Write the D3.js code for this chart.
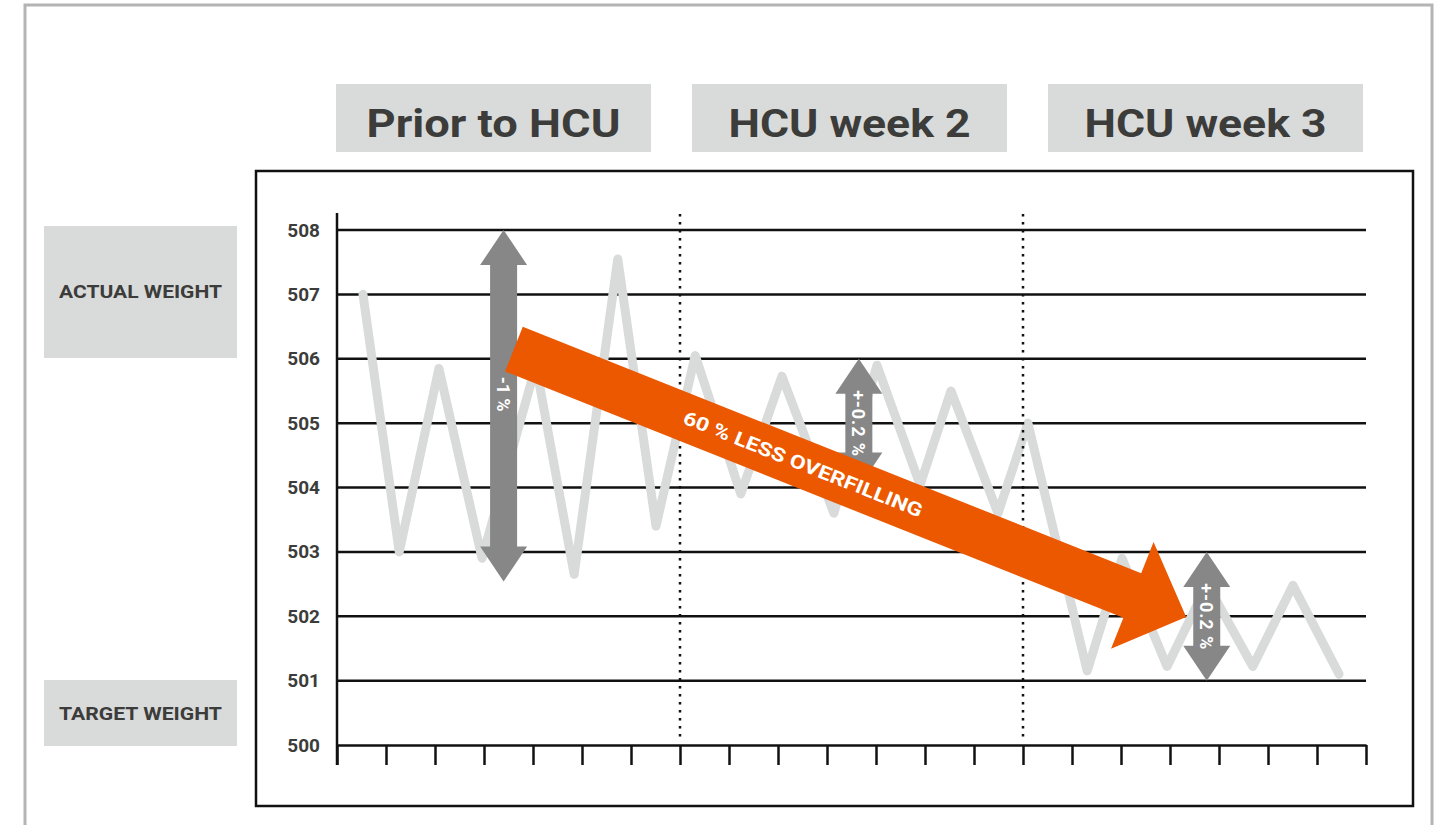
<!DOCTYPE html>
<html>
<head>
<meta charset="utf-8">
<script src="https://cdn.jsdelivr.net/npm/d3@7"></script>
<style>
  body { margin: 0; background: #fff; }
  text { font-family: Roboto, "Noto Sans", sans-serif; font-weight: 700; }
</style>
</head>
<body>
<div id="chart"></div>
<script>
// data
const periods = ['Prior to HCU', 'HCU week 2', 'HCU week 3'];
const yTicks = [500, 501, 502, 503, 504, 505, 506, 507, 508];
const sampleX = [0.53, 1.27, 2.08, 2.96, 4.06, 4.84, 5.73, 6.51, 7.31, 8.24, 9.08, 10.14,
                 11.02, 11.9, 12.53, 13.49, 14.1, 15.31, 16.02, 16.94, 17.76, 18.69, 19.51, 20.45];
const weights = [507.0, 503.0, 505.85, 502.9, 505.9, 502.65, 507.55, 503.4, 506.05, 503.9, 505.73, 503.6,
                 505.9, 504.04, 505.5, 503.6, 505.0, 501.15, 502.9, 501.22, 502.5, 501.22, 502.48, 501.1];
const spreadX = [3.4, 10.65, 17.75];
const spreadTop = [508, 506, 503];
const spreadBottom = [502.54, 504, 501];
const spreadLabelAt = [505.45, 505.0, 502.0];
const spreadLabels = ['-1 %', '+-0.2 %', '+-0.2 %'];
const trendFrom = [3.61, 506.15];
const trendTo = [17.33, 501.99];
const trendLabel = '60 % LESS OVERFILLING';
const sideLabels = ['ACTUAL WEIGHT', 'TARGET WEIGHT'];

const width = 1439, height = 825;
const textColor = '#3c3c3b', boxFill = '#d9dbda';

const svg = d3.select('#chart').append('svg')
    .attr('width', width)
    .attr('height', height);

const x = d3.scaleLinear().domain([0, 21]).range([337, 1366]);
const y = d3.scaleLinear().domain([500, 508]).range([745, 230]);

// frames
svg.append('rect')
    .attr('x', 25).attr('y', 5).attr('width', 1407).attr('height', 860)
    .attr('fill', 'none').attr('stroke', '#b4b4b4').attr('stroke-width', 3);
svg.append('rect')
    .attr('x', 256).attr('y', 171).attr('width', 1157).attr('height', 635)
    .attr('fill', 'none').attr('stroke', '#111').attr('stroke-width', 2.5);

// period headers
const head = svg.append('g').selectAll('g')
    .data(periods)
    .join('g')
    .attr('transform', (d, i) => `translate(${336 + i * 356},84)`);
head.append('rect')
    .attr('width', 315).attr('height', 68)
    .attr('fill', boxFill);
head.append('text')
    .attr('x', 157.5).attr('y', 53)
    .attr('text-anchor', 'middle')
    .attr('font-size', 38)
    .attr('fill', textColor)
    .attr('textLength', (d, i) => i === 0 ? 254 : 242)
    .attr('lengthAdjust', 'spacingAndGlyphs')
    .text(d => d);

// side labels
const side = svg.append('g').selectAll('g')
    .data(sideLabels)
    .join('g')
    .attr('transform', (d, i) => `translate(44,${i === 0 ? 226 : 680})`);
side.append('rect')
    .attr('width', 193)
    .attr('height', (d, i) => i === 0 ? 132 : 66)
    .attr('fill', boxFill);
side.append('text')
    .attr('x', 96.5)
    .attr('y', (d, i) => i === 0 ? 72 : 40)
    .attr('text-anchor', 'middle')
    .attr('font-size', 18)
    .attr('fill', textColor)
    .attr('textLength', 163)
    .attr('lengthAdjust', 'spacingAndGlyphs')
    .text(d => d);

// grid lines
svg.append('g')
    .selectAll('line')
    .data(yTicks.filter(d => d > 500))
    .join('line')
    .attr('x1', x(0)).attr('x2', x(21))
    .attr('y1', d => y(d)).attr('y2', d => y(d))
    .attr('stroke', '#111').attr('stroke-width', 2.5);

// y labels
const yAxis = svg.append('g')
    .attr('transform', `translate(${x(0)},0)`)
    .call(d3.axisLeft(y).tickValues(yTicks).tickSize(0).tickPadding(17).tickFormat(d3.format('d')));
yAxis.select('.domain').remove();
yAxis.selectAll('text')
    .attr('font-size', 19)
    .attr('fill', textColor)
    .style('font-family', 'Roboto, sans-serif')
    .style('font-weight', 700);

// weight line
const line = d3.line()
    .x((d, i) => x(sampleX[i]))
    .y(d => y(d));
svg.append('path')
    .datum(weights)
    .attr('d', line)
    .attr('fill', 'none')
    .attr('stroke', '#d9dbda')
    .attr('stroke-width', 9)
    .attr('stroke-linejoin', 'round')
    .attr('stroke-linecap', 'round');

// week separators
svg.append('g')
    .selectAll('line')
    .data([7, 14])
    .join('line')
    .attr('x1', d => x(d)).attr('x2', d => x(d))
    .attr('y1', 214).attr('y2', 738)
    .attr('stroke', '#111').attr('stroke-width', 2.5)
    .attr('stroke-dasharray', '2.5 5.5');

// x axis
const xAxis = svg.append('g')
    .attr('transform', `translate(0,${y(500)})`)
    .call(d3.axisBottom(x).ticks(21).tickSize(20).tickSizeOuter(0).tickFormat(''));
xAxis.select('.domain').attr('stroke', '#111').attr('stroke-width', 2.5);
xAxis.selectAll('.tick line').attr('stroke', '#111').attr('stroke-width', 2.5);

// y axis line
svg.append('line')
    .attr('x1', x(0)).attr('x2', x(0))
    .attr('y1', y(508) - 17).attr('y2', y(500) + 20)
    .attr('stroke', '#111').attr('stroke-width', 2.5);

// spread arrows
function doubleArrow(cx, top, bottom) {
    const hl = 35, hw = 23.5, sw = 13.5;
    return `M${cx},${top}L${cx + hw},${top + hl}L${cx + sw},${top + hl}L${cx + sw},${bottom - hl}` +
        `L${cx + hw},${bottom - hl}L${cx},${bottom}L${cx - hw},${bottom - hl}L${cx - sw},${bottom - hl}` +
        `L${cx - sw},${top + hl}L${cx - hw},${top + hl}Z`;
}

function drawSpread(i) {
    const g = svg.append('g');
    const cx = x(spreadX[i]);
    g.append('path')
        .attr('d', doubleArrow(cx, y(spreadTop[i]), y(spreadBottom[i])))
        .attr('fill', '#878787');
    g.append('text')
        .attr('transform', `translate(${cx},${y(spreadLabelAt[i])}) rotate(90)`)
        .attr('text-anchor', 'middle')
        .attr('dominant-baseline', 'central')
        .attr('font-size', 18)
        .attr('fill', '#fff')
        .attr('textLength', i === 0 ? 35 : 66)
        .attr('lengthAdjust', 'spacing')
        .text(spreadLabels[i]);
}

drawSpread(0);
drawSpread(1);

// trend arrow
const p0 = [x(trendFrom[0]), y(trendFrom[1])];
const p1 = [x(trendTo[0]), y(trendTo[1])];
const len = Math.hypot(p1[0] - p0[0], p1[1] - p0[1]);
const u = [(p1[0] - p0[0]) / len, (p1[1] - p0[1]) / len];
const n = [-u[1], u[0]];
const sh = 24, hh = 57.5, hlen = 58;
const base = [p1[0] - u[0] * hlen, p1[1] - u[1] * hlen];
const pt = (p, k) => [p[0] + n[0] * k, p[1] + n[1] * k];
const trendPts = [pt(p0, -sh), pt(base, -sh), pt(base, -hh), p1, pt(base, hh), pt(base, sh), pt(p0, sh)];
svg.append('path')
    .attr('d', 'M' + trendPts.map(p => p.join(',')).join('L') + 'Z')
    .attr('fill', '#eb5800');

const angle = Math.atan2(u[1], u[0]) * 180 / Math.PI;
const mid = [p0[0] + u[0] * len * 0.43, p0[1] + u[1] * len * 0.43];
svg.append('text')
    .attr('transform', `translate(${mid[0]},${mid[1]}) rotate(${angle})`)
    .attr('text-anchor', 'middle')
    .attr('dominant-baseline', 'central')
    .attr('font-size', 19)
    .attr('fill', '#fff')
    .attr('textLength', 256)
    .attr('lengthAdjust', 'spacingAndGlyphs')
    .text(trendLabel);

drawSpread(2);
</script>
</body>
</html>
